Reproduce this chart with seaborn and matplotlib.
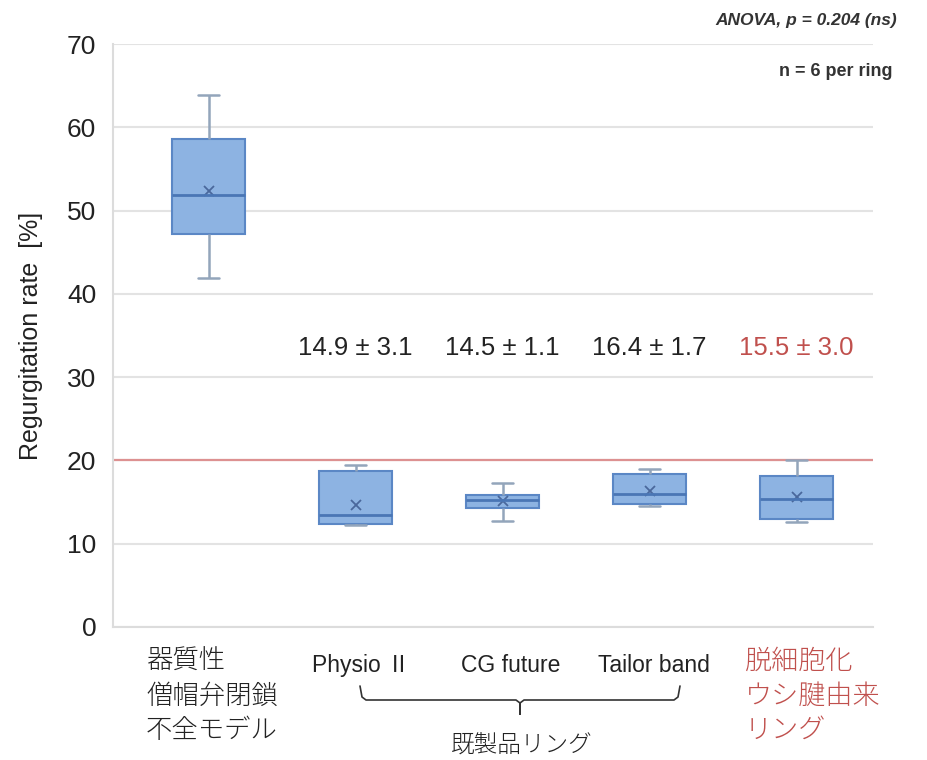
import numpy as np
import pandas as pd
import seaborn as sns
import matplotlib.pyplot as plt
from matplotlib.lines import Line2D

# Data (box statistics per ring, %)
groups = ["model", "Physio II", "CG future", "Tailor band", "decell"]
whisker_low = [41.9, 12.2, 12.7, 14.5, 12.6]
q1 = [47.2, 12.4, 14.3, 14.8, 13.0]
median = [51.9, 13.5, 15.2, 16.0, 15.4]
q3 = [58.6, 18.7, 15.8, 18.4, 18.1]
whisker_high = [63.9, 19.4, 17.3, 19.0, 20.0]
means = [52.4, 14.6, 15.1, 16.3, 15.6]
mean_sd_labels = ["", "14.9 ± 3.1", "14.5 ± 1.1", "16.4 ± 1.7", "15.5 ± 3.0"]
threshold = 20

# Long table built from the five-number summaries (numpy quartiles of 5 values reproduce them)
rows = []
for g, lo, a, m, b, hi in zip(groups, whisker_low, q1, median, q3, whisker_high):
    for v in (lo, a, m, b, hi):
        rows.append({"group": g, "value": v})
df = pd.DataFrame(rows)
df_mean = pd.DataFrame({"group": groups, "value": means})

# Style
sns.set_theme(style="white")
plt.rcParams["font.family"] = ["Liberation Sans", "Noto Sans CJK JP", "DejaVu Sans"]

BOX_FILL = "#8db3e2"
BOX_EDGE = "#5b87c5"
WHISKER = "#93a5bb"
MEDIAN = "#4a76b5"
RED = "#c0504d"
CJK = ["Noto Sans CJK JP", "DejaVu Sans"]

W, H = 928, 760
fig = plt.figure(figsize=(W / 100, H / 100), dpi=100)
ax = fig.add_axes([113 / W, 1 - 627 / H, 760 / W, 583 / H])

sns.boxplot(data=df, x="group", y="value", order=groups, width=0.5,
            whis=(0, 100), showfliers=False, color=BOX_FILL, saturation=1,
            linewidth=1.5, capwidths=0.14,
            boxprops=dict(facecolor=BOX_FILL, edgecolor=BOX_EDGE),
            medianprops=dict(color=MEDIAN, linewidth=2),
            whiskerprops=dict(color=WHISKER, linewidth=1.8),
            capprops=dict(color=WHISKER, linewidth=1.8),
            ax=ax)
sns.pointplot(data=df_mean, x="group", y="value", order=groups,
              linestyle="none", marker="x", markersize=7, markeredgewidth=1.3,
              color="#4a689c", errorbar=None, ax=ax)

ax.axhline(threshold, color="#dd9191", lw=1.6, zorder=1)

# Axes
ax.set_ylim(0, 70)
ax.set_yticks(range(0, 71, 10))
ax.set_xlim(-0.65, 4.52)
ax.set_xticks([])
ax.set_xlabel("")
ax.set_ylabel("Regurgitation rate  [%]", fontsize=18, color="#222222")
ax.yaxis.set_label_coords(-0.092, 0.5)
ax.tick_params(axis="y", length=0, labelsize=19, pad=12, labelcolor="#222222")
ax.yaxis.grid(True, color="#e3e3e3", lw=1.5)
ax.set_axisbelow(True)
for side in ["top", "right"]:
    ax.spines[side].set_visible(False)
for side in ["left", "bottom"]:
    ax.spines[side].set_color("#dcdcdc")
    ax.spines[side].set_linewidth(1.5)

# Mean ± SD annotations
for i, lab in enumerate(mean_sd_labels):
    if lab:
        ax.text(i, 33.5, lab, ha="center", va="center", fontsize=18.5,
                color=RED if i == len(groups) - 1 else "#222222")

# Category labels below the axis (pixel positions of the reference)
def fx(x):
    return x / W

def fy(y):
    return 1 - y / H

fig.text(fx(146), fy(647), "器質性\n僧帽弁閉鎖\n不全モデル", ha="left", va="top",
         fontsize=19, linespacing=1.3, color="#222222", fontweight="light",
         family=CJK)
fig.text(fx(745), fy(647), "脱細胞化\nウシ腱由来\nリング", ha="left", va="top",
         fontsize=19.5, linespacing=1.3, color=RED, fontweight="light",
         family=CJK)
for label, x in zip(["Physio Ⅱ", "CG future", "Tailor band"], [312, 461, 598]):
    fig.text(fx(x), fy(672), label, ha="left", va="baseline", fontsize=16.5,
             color="#222222")
fig.text(fx(522), fy(746), "既製品リング", ha="center", va="center", fontsize=17,
         color="#222222", fontweight="light", family=CJK)

# Brace under the commercial rings
brace_x = [360, 362, 366, 516, 520, 520, 520, 524, 674, 678, 680]
brace_y = [686, 697, 700, 700, 703, 714, 703, 700, 700, 697, 686]
fig.add_artist(Line2D([fx(v) for v in brace_x], [fy(v) for v in brace_y],
                      color="#333333", lw=1.2))

# Stats notes
fig.text(fx(897), fy(21), "ANOVA, p = 0.204 (ns)", ha="right", va="center",
         fontsize=12.5, fontweight="bold", fontstyle="italic", color="#333333",
         family=["Liberation Sans Narrow", "Liberation Sans"])
fig.text(fx(893), fy(71), "n = 6 per ring", ha="right", va="center",
         fontsize=13, fontweight="bold", color="#333333",
         family=["Liberation Sans Narrow", "Liberation Sans"])

fig.savefig("out.png", dpi=100)
